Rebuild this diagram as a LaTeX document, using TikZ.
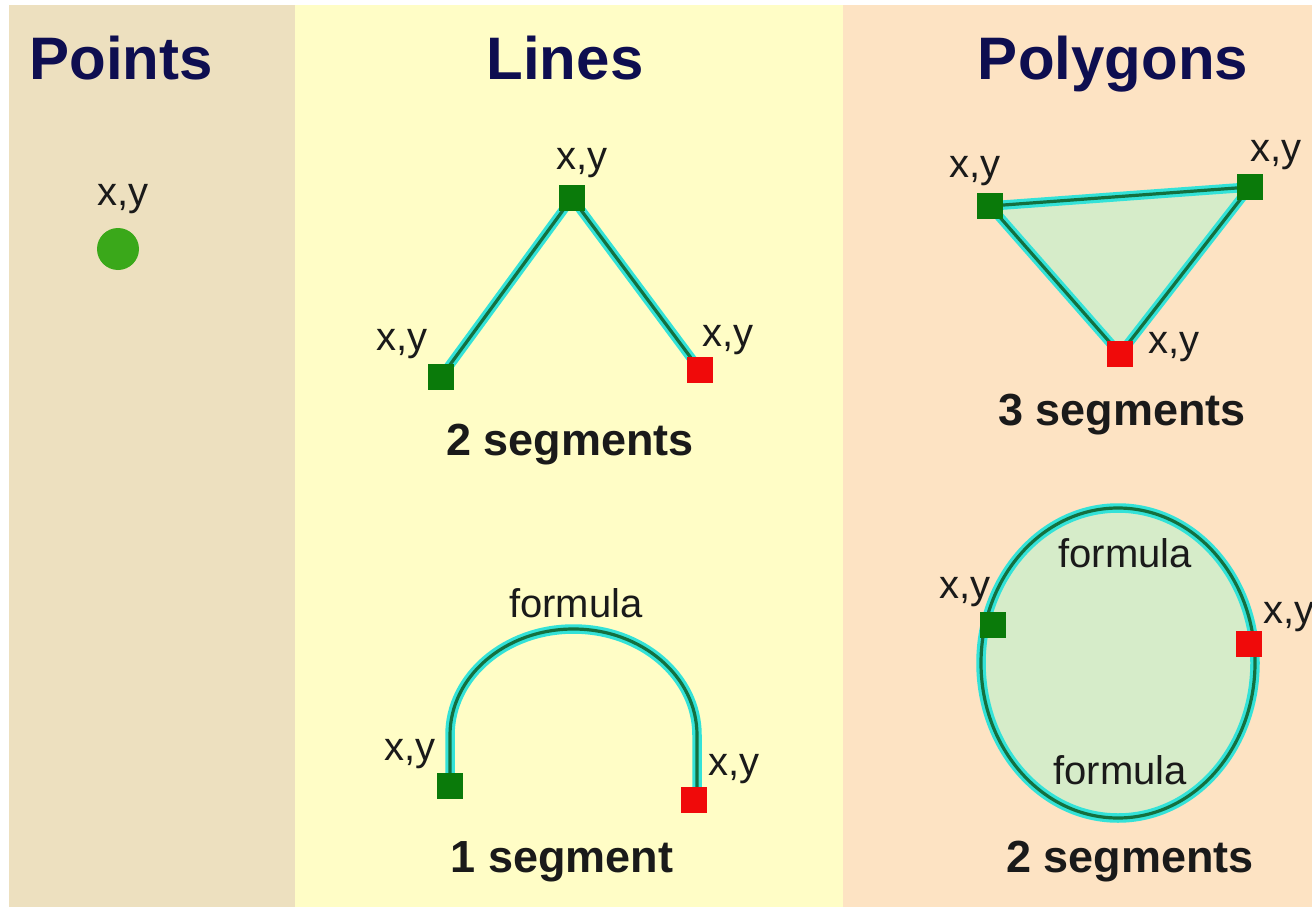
\documentclass[tikz,border=0pt]{standalone}
\usepackage{fontspec}
\setmainfont{Liberation Sans}
\pgfdeclarelayer{back}
\pgfdeclarelayer{mid}
\pgfsetlayers{back,mid,main}
\definecolor{ptbg}{HTML}{EDE0BF}
\definecolor{lnbg}{HTML}{FFFDC6}
\definecolor{pgbg}{HTML}{FDE3C3}
\definecolor{navy}{HTML}{0E0E50}
\definecolor{segcyan}{HTML}{33E2D8}
\definecolor{segcore}{HTML}{137040}
\definecolor{sqgreen}{HTML}{0A7A0A}
\definecolor{sqred}{HTML}{F00A0A}
\definecolor{ptgreen}{HTML}{3AA81A}
\definecolor{polyfill}{HTML}{D6ECC9}
\definecolor{labelc}{HTML}{1A1A1A}
\tikzset{
  title/.style={text=navy, font=\fontsize{60}{70}\selectfont\bfseries, inner sep=0pt},
  caption/.style={text=labelc, font=\fontsize{45}{54}\selectfont\bfseries, inner sep=0pt},
  xy/.style={text=labelc, font=\fontsize{40}{48}\selectfont, inner sep=0pt},
  gsq/.style={fill=sqgreen, minimum size=26pt, inner sep=0pt, outer sep=0pt},
  rsq/.style={fill=sqred, minimum size=26pt, inner sep=0pt, outer sep=0pt},
  seg/.style={draw=segcore, line width=3.2pt, line join=round, preaction={draw=segcyan, line width=9.5pt, line join=round}},
}
\begin{document}
\begin{tikzpicture}[x=1pt,y=-1pt]
\useasboundingbox (0,0) rectangle (1312,907);
\begin{pgfonlayer}{back}
\fill[white] (0,0) rectangle (1312,907);
\fill[ptbg] (9,5) rectangle (295,907);
\fill[lnbg] (295,5) rectangle (843,907);
\fill[pgbg] (843,5) rectangle (1312,907);
\end{pgfonlayer}

% titles
\node[title, anchor=base] (tpts) at (121,80) {Points};
\node[title, anchor=base] (tlns) at (565,80) {Lines};
\node[title, anchor=base] (tpol) at (1113,80) {Polygons};

% Points
\node[circle, fill=ptgreen, minimum size=42pt, inner sep=0pt] (pt) at (118,249) {};
\node[xy] (ptl) at (123,199) {x,y};

% Lines: two segments
\node[gsq] (la) at (441,377) {};
\node[gsq] (lb) at (572,198) {};
\node[rsq] (lc) at (700,370) {};
\begin{pgfonlayer}{mid}
\draw[seg] (la.center) -- (lb.center) -- (lc.center);
\end{pgfonlayer}
\node[xy] (lal) at (402,344) {x,y};
\node[xy] (lbl) at (582,163) {x,y};
\node[xy] (lcl) at (728,340) {x,y};
\node[caption] (lcap1) at (570,445) {2 segments};

% Lines: one segment arc
\node[gsq] (ld) at (450,786) {};
\node[rsq] (le) at (694,800) {};
\begin{pgfonlayer}{mid}
\draw[seg] (ld.center) -- (450,735) arc[start angle=180, end angle=0, x radius=123.5pt, y radius=106pt] -- (le.center -| 697,0);
\end{pgfonlayer}
\node[xy] (lform) at (576,603) {formula};
\node[xy] (ldl) at (410,754) {x,y};
\node[xy] (lel) at (734,769) {x,y};
\node[caption] (lcap2) at (562,862) {1 segment};

% Polygons: triangle
\node[gsq] (pa) at (990,206) {};
\node[gsq] (pb) at (1250,187) {};
\node[rsq] (pc) at (1120,354) {};
\begin{pgfonlayer}{mid}
\fill[polyfill] (pa.center) -- (pb.center) -- (pc.center) -- cycle;
\draw[seg] (pa.center) -- (pb.center) -- (pc.center) -- cycle;
\end{pgfonlayer}
\node[xy] (pal) at (975,171) {x,y};
\node[xy] (pbl) at (1276,155) {x,y};
\node[xy] (pcl) at (1174,347) {x,y};
\node[caption] (pcap1) at (1122,415) {3 segments};

% Polygons: closed curve
\node[gsq] (pd) at (993,625) {};
\node[rsq] (pe) at (1249,644) {};
\begin{pgfonlayer}{mid}
\fill[polyfill] (1118,663) ellipse [x radius=137pt, y radius=155pt];
\draw[seg] (1118,663) ellipse [x radius=137pt, y radius=155pt];
\end{pgfonlayer}
\node[xy] (pform1) at (1125,553) {formula};
\node[xy] (pform2) at (1120,770) {formula};
\node[xy] (pdl) at (965,592) {x,y};
\node[xy, anchor=west] (pel) at (1263,617) {x,y};
\node[caption] (pcap2) at (1130,862) {2 segments};
\end{tikzpicture}
\end{document}
